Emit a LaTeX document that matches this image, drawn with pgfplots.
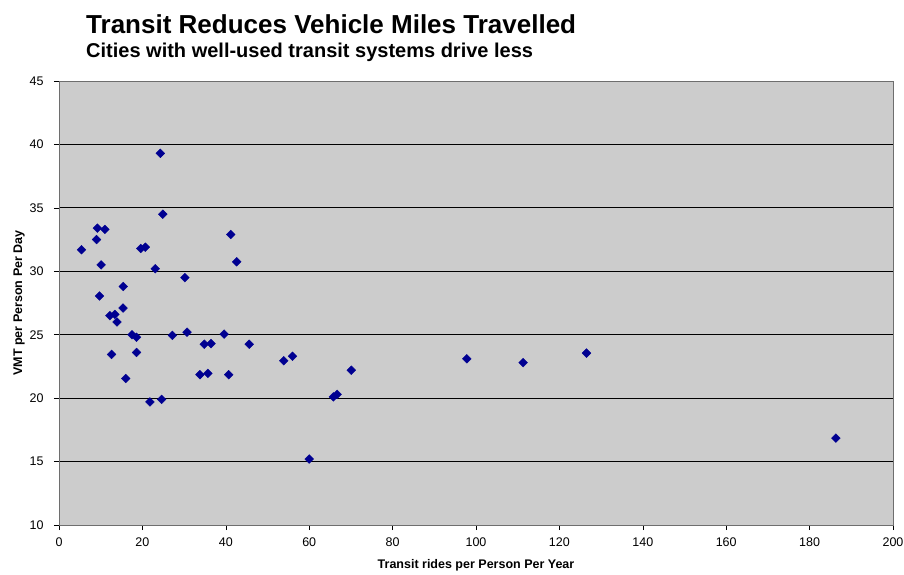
\documentclass[border=0pt]{standalone}
\usepackage{pgfplots}
\pgfplotsset{compat=1.18}
\usepackage{fontspec}
\setmainfont{Liberation Sans}
\definecolor{plotbg}{RGB}{204,204,204}
\definecolor{navy}{RGB}{0,0,145}
\definecolor{bordergray}{RGB}{110,110,110}
\begin{document}
\begin{tikzpicture}[x=1pt,y=1pt]
\path[use as bounding box] (-59,-49) rectangle (845,525);
\begin{axis}[
  at={(0,0)}, anchor=south west,
  scale only axis, width=834pt, height=444pt,
  xmin=0, xmax=200, ymin=10, ymax=45,
  xtick={0,20,...,200}, ytick={10,15,...,45},
  axis background/.style={fill=plotbg},
  axis line style={bordergray, line width=0.8pt},
  ymajorgrids, major grid style={black, line width=0.9pt},
  tick align=outside, tick pos=left,
  major tick length=5pt, tick style={black, line width=0.6pt},
  /pgf/number format/assume math mode=true,
  ticklabel style={font=\fontsize{12.5}{14}\selectfont},
  xticklabel style={yshift=-4pt},
  yticklabel style={xshift=-7pt},
  xlabel={\textbf{Transit rides per Person Per Year}},
  ylabel={\textbf{VMT per Person Per Day}},
  label style={font=\fontsize{12.5}{14}\selectfont},
  xlabel style={yshift=-6pt},
  ylabel style={yshift=-2pt},
  clip=false,
]
\addplot[only marks, mark=square*, mark size=3.1pt, mark options={rotate=45, fill=navy, draw=navy}] coordinates {
(5.4,31.7) (9.2,33.4) (9.0,32.5) (11.0,33.3) (10.1,30.5) (9.7,28.05)
(12.2,26.5) (13.4,26.6) (13.9,26.0) (15.4,28.8) (15.35,27.1) (12.6,23.45)
(16.0,21.55) (17.5,25.0) (18.6,24.8) (18.6,23.6) (19.6,31.8) (20.7,31.9)
(21.8,19.7) (23.1,30.2) (24.3,39.3) (24.6,19.9) (24.9,34.5) (27.2,24.95)
(30.2,29.5) (30.7,25.2) (33.8,21.85) (34.85,24.25) (35.7,21.95) (36.45,24.3)
(39.6,25.05) (40.7,21.85) (41.2,32.9) (42.6,30.75) (45.6,24.25) (53.9,22.95)
(56.0,23.3) (60.0,15.2) (65.8,20.1) (66.7,20.3) (70.1,22.2) (97.8,23.1)
(111.3,22.8) (126.5,23.55) (186.3,16.85)
};
\node[anchor=base west, font=\bfseries\fontsize{26}{30}\selectfont, inner sep=0pt] at (axis description cs:0.0324,1.107) {Transit Reduces Vehicle Miles Travelled};
\node[anchor=base west, font=\bfseries\fontsize{20}{24}\selectfont, inner sep=0pt] at (axis description cs:0.0324,1.052) {Cities with well-used transit systems drive less};
\end{axis}
\end{tikzpicture}
\end{document}
